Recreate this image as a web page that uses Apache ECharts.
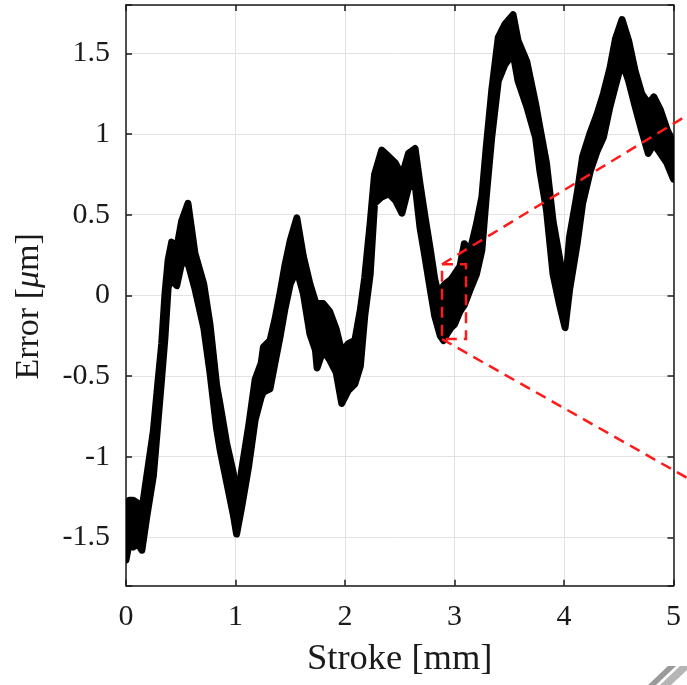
<!DOCTYPE html>
<html>
<head>
<meta charset="utf-8">
<script src="https://cdn.jsdelivr.net/npm/echarts@6/dist/echarts.min.js"></script>
<style>html,body{margin:0;padding:0;background:#fff;}#c{width:687px;height:685px;}</style>
</head>
<body>
<div id="c"></div>
<script>
// Stroke positions [mm] and lower / upper envelope of the measured error band [um]
const strokeX = [0.00,0.03,0.065,0.11,0.145,0.19,0.25,0.29,0.326,0.356,0.385,0.417,0.463,0.508,0.566,0.63,0.71,0.767,0.828,0.86,0.92,0.98,1.01,1.057,1.12,1.18,1.235,1.255,1.315,1.36,1.406,1.45,1.50,1.56,1.62,1.68,1.73,1.745,1.80,1.86,1.92,1.97,2.03,2.09,2.14,2.18,2.23,2.27,2.335,2.40,2.46,2.52,2.58,2.64,2.685,2.73,2.78,2.82,2.87,2.90,2.93,2.97,3.00,3.05,3.09,3.14,3.20,3.25,3.29,3.34,3.40,3.46,3.535,3.58,3.66,3.74,3.78,3.84,3.90,3.96,4.01,4.05,4.12,4.17,4.24,4.30,4.36,4.42,4.47,4.53,4.59,4.65,4.71,4.77,4.82,4.88,4.94,5.00];
const errLow  = [-1.64,-1.53,-1.56,-1.54,-1.58,-1.37,-1.12,-0.80,-0.51,-0.26,0.05,0.10,0.06,0.20,0.20,0.04,-0.20,-0.48,-0.83,-0.96,-1.16,-1.36,-1.48,-1.31,-1.06,-0.77,-0.63,-0.60,-0.58,-0.42,-0.26,-0.09,0.07,0.16,0.01,-0.24,-0.34,-0.45,-0.34,-0.40,-0.48,-0.67,-0.59,-0.55,-0.44,-0.13,0.13,0.57,0.61,0.63,0.59,0.51,0.67,0.69,0.42,0.24,0.03,-0.13,-0.25,-0.28,-0.24,-0.20,-0.18,-0.10,-0.06,0.03,0.13,0.28,0.61,0.98,1.33,1.43,1.50,1.33,1.17,0.98,0.77,0.53,0.13,-0.06,-0.20,0.03,0.32,0.57,0.77,0.89,0.98,1.17,1.30,1.45,1.33,1.17,1.02,0.88,0.94,0.88,0.82,0.72];
const errHigh = [-1.32,-1.27,-1.27,-1.29,-1.33,-1.12,-0.84,-0.55,-0.30,0.01,0.22,0.33,0.29,0.46,0.57,0.26,0.07,-0.18,-0.56,-0.68,-0.92,-1.10,-1.30,-1.08,-0.81,-0.52,-0.42,-0.32,-0.28,-0.15,0.01,0.18,0.34,0.48,0.24,0.07,-0.04,-0.05,-0.05,-0.10,-0.21,-0.35,-0.30,-0.28,-0.09,0.11,0.45,0.75,0.90,0.86,0.82,0.74,0.88,0.91,0.69,0.49,0.28,0.10,-0.04,0.06,0.08,0.10,0.13,0.18,0.32,0.27,0.44,0.61,0.92,1.27,1.60,1.68,1.74,1.58,1.45,1.19,1.04,0.82,0.46,0.23,0.03,0.36,0.63,0.86,1.01,1.12,1.25,1.41,1.59,1.71,1.58,1.39,1.25,1.19,1.23,1.15,1.03,0.94];

// Zoom-in marker (data coordinates)
const zoomBox   = [[2.886,0.193],[3.105,0.193],[3.105,-0.271],[2.886,-0.271],[2.886,0.193]];
const zoomUpper = [[2.886,0.193],[5.123,1.115]];
const zoomLower = [[2.886,-0.271],[5.123,-1.131]];

const xTicks = [0,1,2,3,4,5];
const yTickStep = 0.5;

const FONT = '"Liberation Serif", "Times New Roman", serif';
const INK = '#1a1a1a';

const chart = echarts.init(document.getElementById('c'), null, {renderer:'canvas'});

function yFmt(v){
  const k = v / yTickStep;
  if (Math.abs(k - Math.round(k)) > 1e-6) return '';
  const r = Math.round(k) * yTickStep;
  return String(Math.abs(r) < 1e-9 ? 0 : r);
}

const axisCommonX = {
  type:'value', min: xTicks[0], max: xTicks[xTicks.length-1], interval: 1,
  axisLine:{show:true, onZero:false, lineStyle:{color:INK, width:1.5}},
  axisTick:{show:true, inside:true, length:6, lineStyle:{color:INK, width:1.5}},
};
const axisCommonY = {
  type:'value', min:-1.8, max:1.8, splitNumber:7, minInterval:0.5, maxInterval:0.5,
  axisLine:{show:true, onZero:false, lineStyle:{color:INK, width:1.5}},
  axisTick:{show:true, inside:true, length:6, lineStyle:{color:INK, width:1.5}},
};

const option = {
  animation:false,
  backgroundColor:'#ffffff',
  grid:{left:126, right:13.5, top:5, bottom:99.3, containLabel:false},
  xAxis:[
    Object.assign({}, axisCommonX, {
      position:'bottom',
      name:'Stroke [mm]', nameLocation:'middle', nameGap:55,
      nameTextStyle:{fontFamily:FONT, fontSize:36.5, color:INK},
      axisLabel:{show:true, margin:16, fontFamily:FONT, fontSize:30, color:INK},
      splitLine:{show:true, lineStyle:{color:'#e3e3e3', width:1}}
    }),
    Object.assign({}, axisCommonX, {
      position:'top', axisLabel:{show:false}, splitLine:{show:false}
    })
  ],
  yAxis:[
    Object.assign({}, axisCommonY, {
      position:'left',
      name:'Error [{i|μ}m]', nameLocation:'middle', nameGap:80,
      nameTextStyle:{fontFamily:FONT, fontSize:34, color:INK, padding:[0,22,0,0],
        rich:{i:{fontFamily:FONT, fontSize:34, fontStyle:'italic', color:INK}}},
      axisLabel:{show:true, margin:16, fontFamily:FONT, fontSize:30, color:INK, formatter:yFmt},
      splitLine:{show:true, lineStyle:{color:'#e3e3e3', width:1}}
    }),
    Object.assign({}, axisCommonY, {
      position:'right', axisLabel:{show:false}, splitLine:{show:false}
    })
  ],
  series:[
    {
      type:'custom',
      coordinateSystem:'cartesian2d',
      xAxisIndex:0, yAxisIndex:0,
      data:[[strokeX[0], errLow[0]]],
      clip:true,
      z:3,
      renderItem:function(params, api){
        const pts = [];
        for (let i=0;i<strokeX.length;i++) pts.push(api.coord([strokeX[i], errHigh[i]]));
        for (let i=strokeX.length-1;i>=0;i--) pts.push(api.coord([strokeX[i], errLow[i]]));
        return {
          type:'polygon',
          shape:{points:pts},
          style:{fill:'#000', stroke:'#000', lineWidth:7, lineJoin:'round'}
        };
      }
    },
    {
      type:'custom',
      coordinateSystem:'cartesian2d',
      xAxisIndex:0, yAxisIndex:0,
      data:[[zoomBox[0][0], zoomBox[0][1]]],
      clip:false,
      z:5,
      renderItem:function(params, api){
        const style = {fill:null, stroke:'#ff1a1a', lineWidth:2.5, lineDash:[11,7]};
        const mk = arr => ({type:'polyline', shape:{points:arr.map(p => api.coord(p))}, style:style});
        return {type:'group', children:[mk(zoomBox), mk(zoomUpper), mk(zoomLower)]};
      }
    }
  ],
  graphic:[
    {type:'polygon', shape:{points:[[648,685],[668,666],[676,666],[656,685]]}, style:{fill:'#9a9a9a'}, silent:true},
    {type:'polygon', shape:{points:[[660,685],[680,666],[687,666],[687,670],[671,685]]}, style:{fill:'#b5b5b5'}, silent:true}
  ]
};
chart.setOption(option);
</script>
</body>
</html>
